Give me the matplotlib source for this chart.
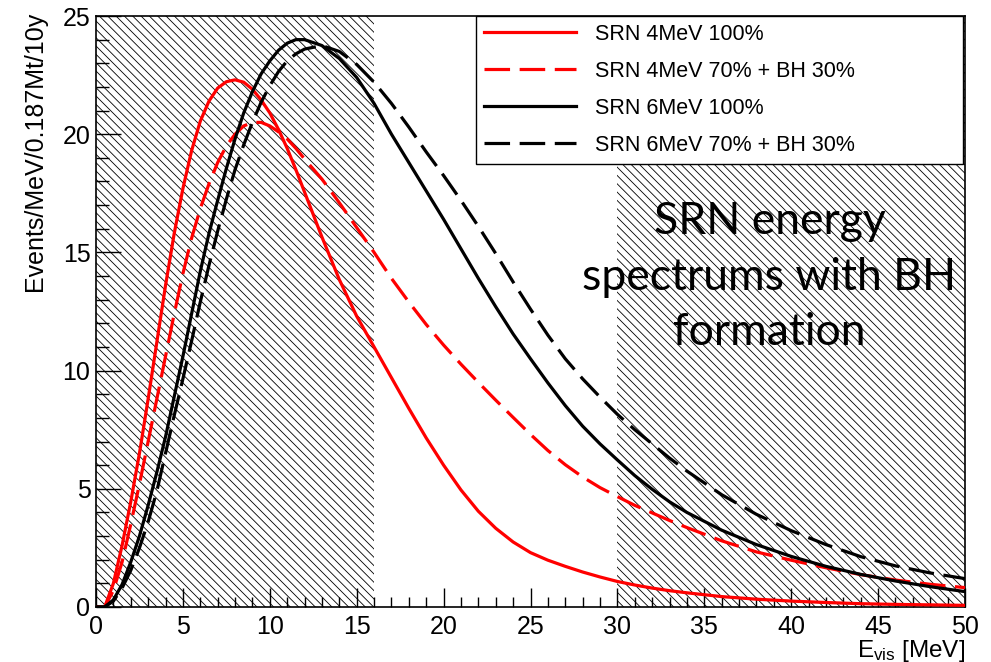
import matplotlib
matplotlib.use("Agg")
import matplotlib.pyplot as plt
from matplotlib.ticker import MultipleLocator

# ---------------- data ----------------
energy = [0, 0.5, 1.0, 1.5, 2.0, 2.5, 3.0, 3.5, 4.0, 4.5, 5.0, 5.5, 6.0, 6.5, 7.0, 7.5,
          8.0, 8.5, 9.0, 9.5, 10.0, 10.5, 11.0, 11.5, 12.0, 13, 14, 15, 16, 17, 18, 19,
          20, 21, 22, 23, 24, 25, 26, 27, 28, 29, 30, 31, 32, 33, 34, 36, 38, 40, 42,
          44, 46, 48, 50]

srn4_100 = [0, 0, 1.0, 2.6, 4.45, 6.5, 8.8, 11.2, 13.6, 15.8, 17.7, 19.3, 20.55, 21.4,
            21.95, 22.22, 22.3, 22.2, 21.9, 21.45, 20.9, 20.2, 19.4, 18.5, 17.55, 15.65,
            13.85, 12.3, 11.0, 9.7, 8.4, 7.15, 6.0, 4.95, 4.05, 3.33, 2.75, 2.3, 1.98,
            1.72, 1.48, 1.27, 1.08, 0.93, 0.8, 0.69, 0.6, 0.44, 0.33, 0.25, 0.19, 0.14,
            0.11, 0.09, 0.07]

srn4_70_bh30 = [0, 0, 0.7, 1.9, 3.5, 5.2, 7.0, 8.8, 10.6, 12.4, 14.1, 15.6, 16.85, 17.9,
                18.8, 19.5, 20.0, 20.35, 20.5, 20.5, 20.35, 20.1, 19.8, 19.4, 18.95,
                18.1, 17.1, 16.05, 15.0, 13.9, 12.9, 11.95, 11.08, 10.27, 9.5, 8.75,
                8.02, 7.3, 6.62, 6.02, 5.5, 5.05, 4.67, 4.3, 3.98, 3.66, 3.36, 2.8,
                2.33, 1.98, 1.66, 1.37, 1.14, 0.96, 0.82]

srn6_100 = [0, 0, 0.3, 0.95, 1.9, 3.0, 4.3, 5.7, 7.2, 8.9, 10.6, 12.4, 14.2, 15.8, 17.2,
            18.55, 19.8, 20.9, 21.8, 22.55, 23.1, 23.55, 23.85, 24.0, 24.0, 23.75, 23.2,
            22.4, 21.3, 20.0, 18.8, 17.6, 16.4, 15.15, 13.9, 12.7, 11.55, 10.5, 9.48,
            8.52, 7.65, 6.9, 6.22, 5.56, 4.98, 4.45, 4.0, 3.25, 2.64, 2.14, 1.72,
            1.38, 1.1, 0.86, 0.65]

srn6_70_bh30 = [0, 0, 0.25, 0.8, 1.55, 2.5, 3.6, 4.9, 6.5, 8.1, 9.65, 11.25, 12.9, 14.45,
                15.9, 17.25, 18.5, 19.55, 20.5, 21.35, 22.05, 22.65, 23.1, 23.4, 23.6,
                23.75, 23.5, 22.95, 22.2, 21.3, 20.3, 19.25, 18.25, 17.2, 16.1, 14.95,
                13.75, 12.6, 11.5, 10.5, 9.65, 8.88, 8.15, 7.5, 6.9, 6.3, 5.75, 4.75,
                3.92, 3.23, 2.64, 2.13, 1.74, 1.44, 1.2]

series_labels = ["SRN 4MeV 100%", "SRN 4MeV 70% + BH 30%",
                 "SRN 6MeV 100%", "SRN 6MeV 70% + BH 30%"]
excluded_ranges = [(0, 16), (30, 50)]
annotation = "SRN energy\nspectrums with BH\nformation"

# ---------------- styling ----------------
plt.rcParams["font.family"] = ["Liberation Sans", "DejaVu Sans"]
plt.rcParams["mathtext.fontset"] = "custom"
plt.rcParams["mathtext.rm"] = "Liberation Sans"
plt.rcParams["mathtext.it"] = "Liberation Sans"
plt.rcParams["hatch.linewidth"] = 0.6

fig = plt.figure(figsize=(9.91, 6.62), dpi=100)
ax = fig.add_axes([96 / 991, 55 / 662, 869 / 991, 591 / 662])

hatch_pattern = chr(92) * 4
for lo, hi in excluded_ranges:
    ax.axvspan(lo, hi, facecolor="none", edgecolor="black", hatch=hatch_pattern,
               linewidth=0, zorder=1)

lw = 2.3
dash = (8, 3)
ax.plot(energy, srn4_100, color="red", lw=lw, label=series_labels[0], zorder=3)
ax.plot(energy, srn4_70_bh30, color="red", lw=lw, dashes=dash,
        label=series_labels[1], zorder=3)
ax.plot(energy, srn6_100, color="black", lw=lw, label=series_labels[2], zorder=3)
ax.plot(energy, srn6_70_bh30, color="black", lw=lw, dashes=dash,
        label=series_labels[3], zorder=3)

ax.set_xlim(0, 50)
ax.set_ylim(0, 25)

ax.xaxis.set_major_locator(MultipleLocator(5))
ax.xaxis.set_minor_locator(MultipleLocator(1))
ax.yaxis.set_major_locator(MultipleLocator(5))
ax.yaxis.set_minor_locator(MultipleLocator(1))

ax.tick_params(axis="both", which="both", direction="in", top=False, right=False,
               width=1.0, labelsize=18, colors="black")
ax.tick_params(axis="x", which="major", length=14, pad=6)
ax.tick_params(axis="x", which="minor", length=7)
ax.tick_params(axis="y", which="major", length=18, pad=4)
ax.tick_params(axis="y", which="minor", length=9)
for sp in ax.spines.values():
    sp.set_linewidth(1.2)

ax.set_ylabel("Events/MeV/0.187Mt/10y", fontsize=18, loc="top", labelpad=11)
ax.yaxis.label.set_y(1.008)
ax.set_xlabel(r"E$_{\mathregular{vis}}$ [MeV]", fontsize=17.5, loc="right",
              labelpad=-1)

ax.text(0.775, 0.687, annotation, transform=ax.transAxes, ha="center", va="top",
        fontsize=32, family=["Lato", "DejaVu Sans"], linespacing=1.44, zorder=4)

leg = ax.legend(loc="upper left", bbox_to_anchor=(0.437, 0.751, 0.561, 0.249),
                mode="expand", fontsize=15.5, frameon=True, fancybox=False,
                framealpha=1, edgecolor="black", handlelength=4.3,
                handletextpad=0.88, labelspacing=0.745, borderpad=0.36,
                borderaxespad=0)
leg.get_frame().set_linewidth(1.0)
leg.set_zorder(10)

fig.savefig("out.png", dpi=100)
